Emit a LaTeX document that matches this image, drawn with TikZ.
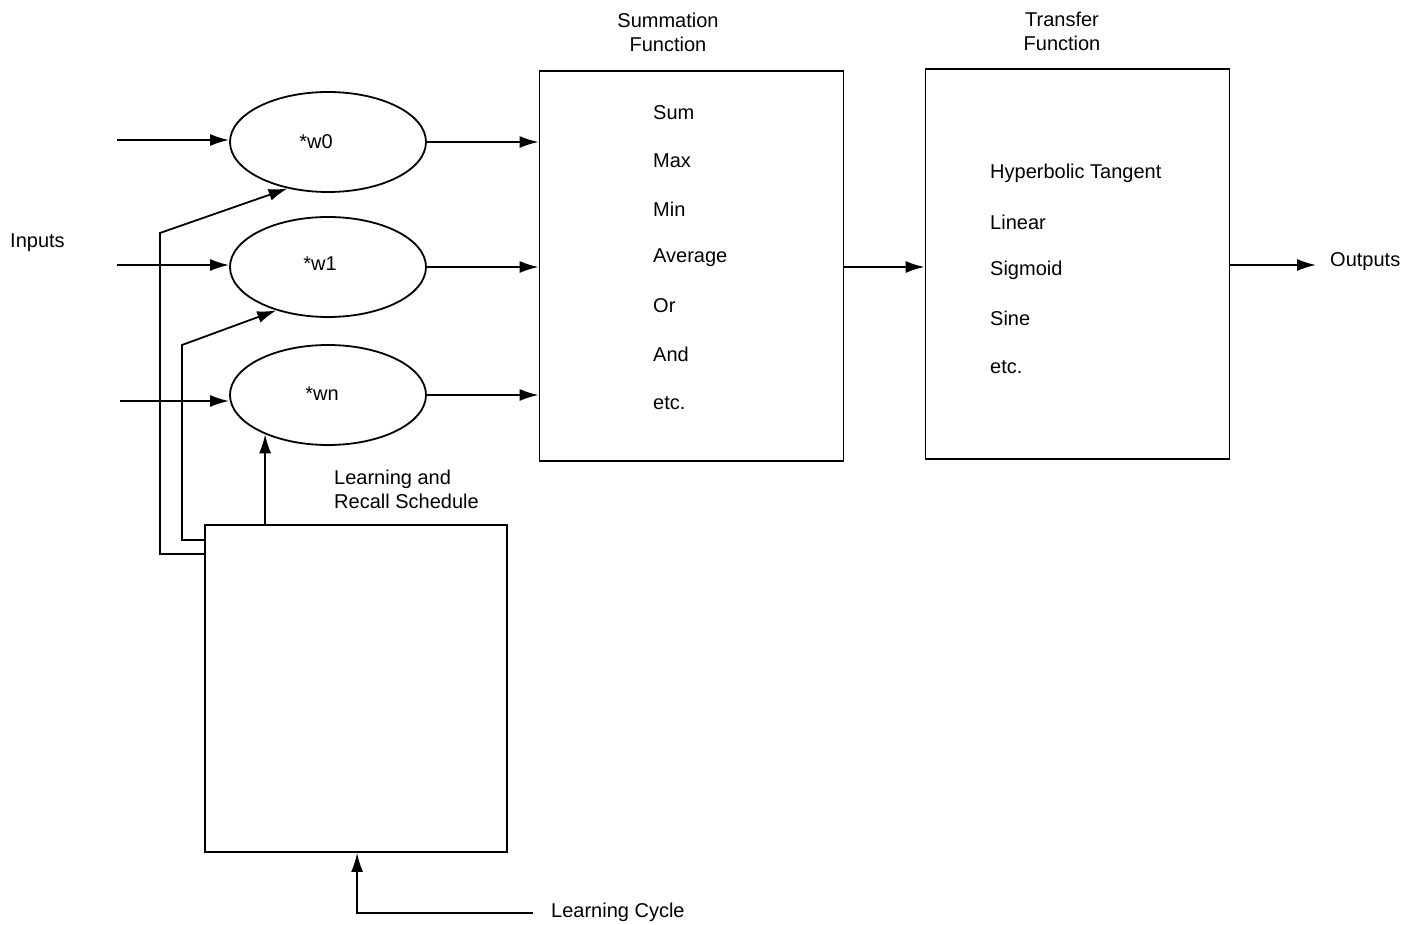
\documentclass[tikz,border=0pt]{standalone}
\usepackage{fontspec}
\setmainfont{Liberation Sans}
\usetikzlibrary{arrows.meta,shapes.geometric}
\begin{document}
\begin{tikzpicture}[x=1pt,y=-1pt,
  every node/.style={font=\fontsize{20}{24}\selectfont},
  ln/.style={line width=1.8pt},
  arr/.style={ln,-{Latex[length=19pt,width=12pt]}},
  wnode/.style={draw,ln,ellipse,minimum width=196pt,minimum height=100pt,inner sep=0pt},
  bigbox/.style={draw,ln,rectangle,minimum width=304pt,minimum height=390pt,inner sep=0pt},
  item/.style={anchor=west,inner sep=0pt}]
\useasboundingbox (0,0) rectangle (1418,925);
% weight ellipses
\node[wnode] (w0) at (328,142) {};
\node[wnode] (w1) at (328,267) {};
\node[wnode] (wn) at (328,395) {};
\node[inner sep=0pt] (t0) at (316,142) {*w0};
\node[inner sep=0pt] (t1) at (320,264) {*w1};
\node[inner sep=0pt] (tn) at (322,394) {*wn};
% boxes
\node[bigbox] (S) at (691.5,266) {};
\node[bigbox] (T) at (1077.5,264) {};
\node[draw,ln,rectangle,minimum width=302pt,minimum height=327pt,inner sep=0pt] (L) at (356,688.5) {};
% titles
\node[align=center,inner sep=0pt] (st) at (668,32) {Summation\\Function};
\node[align=center,inner sep=0pt] (tt) at (1062,31) {Transfer\\Function};
\node[align=left,anchor=west,inner sep=0pt] (lt) at (334,489) {Learning and\\Recall Schedule};
\node[anchor=west,inner sep=0pt] (in) at (10,243) {Inputs};
\node[anchor=west,inner sep=0pt] (out) at (1330,262) {Outputs};
\node[anchor=west,inner sep=0pt] (lcy) at (551,912) {Learning Cycle};
% summation items
\node[item] (s1) at (653,113) {Sum};
\node[item] (s2) at (653,161) {Max};
\node[item] (s3) at (653,209) {Min};
\node[item] (s4) at (653,258) {Average};
\node[item] (s5) at (653,306) {Or};
\node[item] (s6) at (653,354) {And};
\node[item] (s7) at (653,403) {etc.};
% transfer items
\node[item] (f1) at (990,173) {Hyperbolic Tangent};
\node[item] (f2) at (990,222) {Linear};
\node[item] (f3) at (990,270) {Sigmoid};
\node[item] (f4) at (990,318) {Sine};
\node[item] (f5) at (990,367) {etc.};
% input coordinates
\coordinate (i0) at (117,140);
\coordinate (i1) at (117,265);
\coordinate (in2) at (120,401);
\draw[arr] (i0) -- (i0 -| w0.west);
\draw[arr] (i1) -- (i1 -| w1.west);
\draw[arr] (in2) -- (in2 -| wn.west);
% to summation
\draw[arr] (w0.east) -- (w0.east -| S.west);
\draw[arr] (w1.east) -- (w1.east -| S.west);
\draw[arr] (wn.east) -- (wn.east -| S.west);
% summation to transfer
\draw[arr] (S.east |- 0,267) -- (T.west |- 0,267);
\coordinate (o) at (1316,265);
\draw[arr] (T.east |- o) -- (o);
% feedback lines
\coordinate (fa) at (w0.229);
\coordinate (fb) at (w1.220);
\draw[arr] (L.west |- 0,554) -- (160,554) -- (160,233) -- (fa);
\draw[arr] (L.west |- 0,540) -- (182,540) -- (182,345) -- (fb);
\coordinate (fc) at (wn.212);
\draw[arr] (L.north -| fc) -- (fc);
% learning cycle
\coordinate (lc) at (533,913);
\draw[arr] (lc) -| ([xshift=153pt]L.south west);
\end{tikzpicture}
\end{document}
